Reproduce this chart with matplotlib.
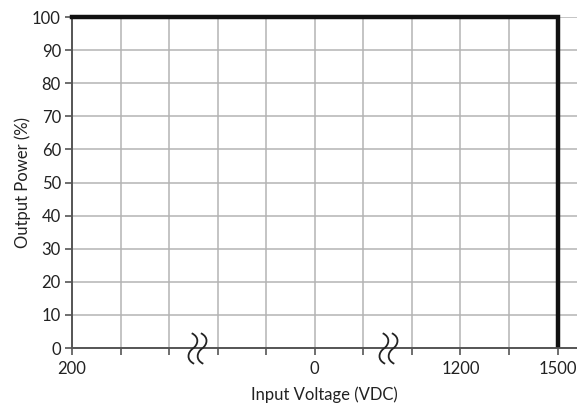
import matplotlib.pyplot as plt
from matplotlib.path import Path

# x axis is broken, so data lives on grid-index positions
tick_positions = [0, 5, 8, 10]
tick_labels = ["200", "0", "1200", "1500"]
grid_positions = list(range(0, 11))
break_positions = [2.57, 6.5]

curve_x = [0, 10, 10]
curve_y = [100, 100, 1]

y_ticks = list(range(0, 101, 10))

plt.rcParams['font.family'] = ['Lato', 'DejaVu Sans']

fig = plt.figure(figsize=(5.77, 4.05), dpi=100)
ax = fig.add_axes([0.1248, 0.1407, 1 - 0.1248, 0.817])

ax.set_xlim(0, 10.4)
ax.set_ylim(0, 100)

for gx in grid_positions:
    ax.axvline(gx, color='#b4b4b4', lw=1.1, zorder=1)
for gy in y_ticks:
    ax.axhline(gy, color='#b4b4b4', lw=1.1, zorder=1)

ax.plot(curve_x, curve_y, color='#111111', lw=3.2, solid_joinstyle='miter', zorder=3,
        clip_on=False)

ax.set_xticks(grid_positions)
ax.set_xticklabels([tick_labels[tick_positions.index(g)] if g in tick_positions else ""
                    for g in grid_positions])
ax.set_yticks(y_ticks)

for side in ['top', 'right']:
    ax.spines[side].set_visible(False)
for side in ['left', 'bottom']:
    ax.spines[side].set_color('#555555')
    ax.spines[side].set_linewidth(1.4)

ax.tick_params(axis='both', colors='#555555', width=1.2, length=5, labelsize=12,
               labelcolor='#222222')
ax.tick_params(axis='x', pad=4)
ax.tick_params(axis='y', pad=3)


# axis-break marker: two wavy strokes
def wave(off):
    return [(off - 0.08, 1.0), (off + 0.45, 0.75), (off + 0.35, 0.25), (off, 0.0),
            (off - 0.35, -0.25), (off - 0.45, -0.75), (off + 0.08, -1.0)]


codes = [Path.MOVETO] + [Path.CURVE4] * 6
verts = wave(-0.3) + wave(0.3)
break_marker = Path(verts, codes + codes)

for bx in break_positions:
    ax.plot(bx, 0, marker=break_marker, markersize=22, markerfacecolor='none',
            markeredgecolor='#222222', markeredgewidth=1.3, clip_on=False, zorder=4)

ax.set_xlabel("Input Voltage (VDC)", fontsize=12, color='#222222', labelpad=7)
ax.set_ylabel("Output Power (%)", fontsize=12, color='#222222', labelpad=1)

fig.savefig("out.png", dpi=100)
